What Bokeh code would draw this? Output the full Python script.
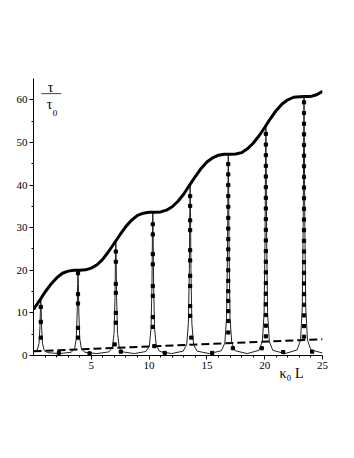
from bokeh.plotting import figure
from bokeh.models import Range1d, FixedTicker, Label, Title
from bokeh.embed import file_html
from bokeh.resources import INLINE

# ---- data ----
# thick upper envelope
env_x = [0, 0.5, 1, 1.5, 2, 2.5, 3, 3.5, 4, 4.5, 5, 5.5, 6, 6.5, 7, 7.5, 8, 8.5, 9, 9.5,
         10, 10.5, 11, 11.5, 12, 12.5, 13, 13.5, 14, 14.5, 15, 15.5, 16, 16.5, 17, 17.5,
         18, 18.5, 19, 19.5, 20, 20.5, 21, 21.5, 22, 22.5, 23, 23.5, 24, 24.5, 25]
env_y = [10.8, 12.8, 14.9, 16.7, 18.2, 19.3, 19.8, 20.0, 20.0, 20.1, 20.5, 21.3, 22.6, 24.4,
         26.4, 28.4, 30.3, 31.8, 32.9, 33.4, 33.6, 33.6, 33.7, 34.1, 34.9, 36.2, 37.9, 40.0,
         42.0, 43.9, 45.4, 46.4, 47.0, 47.2, 47.2, 47.3, 47.6, 48.5, 49.8, 51.5, 53.5, 55.6,
         57.5, 59.0, 60.0, 60.6, 60.7, 60.8, 60.8, 61.2, 62.0]

# thin resonance curve
thin_x = [0.0, 0.33, 0.48, 0.56, 0.60, 0.63, 0.66, 0.70, 0.78, 0.93, 1.23,
          2.24,
          3.25, 3.55, 3.70, 3.78, 3.82, 3.85, 3.88, 3.92, 4.00, 4.15, 4.45,
          5.48,
          6.52, 6.82, 6.97, 7.05, 7.09, 7.12, 7.15, 7.19, 7.27, 7.42, 7.72,
          8.72,
          9.72, 10.02, 10.17, 10.25, 10.29, 10.32, 10.35, 10.39, 10.47, 10.62, 10.92,
          11.94,
          12.95, 13.25, 13.40, 13.48, 13.52, 13.55, 13.58, 13.62, 13.70, 13.85, 14.15,
          15.20,
          16.25, 16.55, 16.70, 16.78, 16.82, 16.85, 16.88, 16.92, 17.00, 17.15, 17.45,
          18.48,
          19.50, 19.80, 19.95, 20.03, 20.07, 20.10, 20.13, 20.17, 20.25, 20.40, 20.70,
          21.75,
          22.80, 23.10, 23.25, 23.33, 23.37, 23.40, 23.43, 23.47, 23.55, 23.70, 24.00,
          25.0]
thin_y = [1.05, 1.3, 2.9, 6.75, 11.06, 13.0, 11.06, 6.75, 2.74, 1.15, 0.67,
          0.45,
          0.76, 1.50, 3.97, 10.2, 16.89, 19.9, 16.89, 10.2, 3.97, 1.50, 0.76,
          0.45,
          0.85, 1.85, 5.19, 13.6, 22.64, 26.7, 22.64, 13.6, 5.19, 1.85, 0.85,
          0.45,
          0.94, 2.20, 6.41, 17.0, 28.39, 33.5, 28.39, 17.0, 6.41, 2.20, 0.94,
          0.45,
          1.03, 2.53, 7.55, 20.2, 33.79, 39.9, 33.79, 20.2, 7.55, 2.53, 1.03,
          0.45,
          1.12, 2.90, 8.84, 23.8, 39.88, 47.1, 39.88, 23.8, 8.84, 2.90, 1.12,
          0.45,
          1.21, 3.25, 10.02, 27.1, 45.45, 53.7, 45.45, 27.1, 10.02, 3.25, 1.21,
          0.45,
          1.30, 3.60, 11.24, 30.5, 51.2, 60.5, 51.2, 30.5, 11.24, 3.60, 1.30,
          0.6]

# square markers on the peaks
peak_centers = [0.63, 3.85, 7.12, 10.32, 13.55, 16.85, 20.1, 23.4]
peak_marks = [
    [11.4, 7.9, 4.2],
    [19.3, 14.4, 12.2, 6.5, 4.2],
    [24.4, 22.0, 16.8, 14.7, 10.0, 7.7],
    [30.8, 28.4, 23.8, 21.4, 16.3, 14.0, 9.0, 6.7],
    [37.4, 35.1, 31.7, 29.4, 24.7, 22.3, 18.7, 16.3, 11.6, 9.3],
    [44.9, 42.5, 40.0, 37.4, 34.9, 32.3, 29.8, 27.3, 24.9, 22.6, 20.0, 17.5, 15.1,
     12.8, 10.4, 8.1, 5.4],
    [52.0, 49.5, 47.0, 44.5, 42.0, 39.5, 37.0, 34.5, 32.0, 29.5, 27.0, 24.5, 22.0,
     19.5, 17.0, 14.5, 12.0, 9.5, 7.0, 4.5],
    [59.4, 56.9, 54.4, 51.9, 49.4, 46.9, 44.4, 41.9, 39.4, 36.9, 34.4, 31.9, 29.4,
     26.9, 24.4, 21.9, 19.4, 16.9, 14.4, 11.9, 9.4, 6.9, 4.4],
]
# markers near the base line
base_mark_x = [2.2, 4.85, 7.55, 11.35, 15.45, 17.25, 19.75, 21.6, 24.1, 7.02, 10.45, 13.65]
base_mark_y = [0.6, 0.5, 0.9, 0.6, 0.6, 1.7, 1.7, 0.8, 0.9, 2.6, 2.2, 4.2]

# dashed straight line
dash_x = [0, 25]
dash_y = [1.0, 3.8]

x_ticks = [5, 10, 15, 20, 25]
x_minor = [i for i in range(1, 25) if i % 5 != 0]
y_ticks = [0, 10, 20, 30, 40, 50, 60]
y_minor = [5, 15, 25, 35, 45, 55]

# ---- figure ----
p = figure(frame_width=289, frame_height=277,
           x_range=Range1d(0, 25), y_range=Range1d(0, 65),
           output_backend="svg", toolbar_location=None,
           min_border_left=33, min_border_right=24,
           min_border_top=78, min_border_bottom=95)
p.outline_line_color = None
p.xgrid.visible = False
p.ygrid.visible = False
p.background_fill_color = "white"

p.xaxis.ticker = FixedTicker(ticks=x_ticks, minor_ticks=x_minor)
p.yaxis.ticker = FixedTicker(ticks=y_ticks, minor_ticks=y_minor)
for ax in (p.xaxis, p.yaxis):
    ax.axis_line_color = "black"
    ax.axis_line_width = 1
    ax.major_tick_in = 0
    ax.major_tick_out = 4
    ax.minor_tick_in = 0
    ax.minor_tick_out = 2
    ax.major_tick_line_color = "black"
    ax.minor_tick_line_color = "black"
    ax.major_label_text_font = "Liberation Serif"
    ax.major_label_text_font_size = "11px"
    ax.major_label_text_color = "black"
    ax.major_label_standoff = 2

p.line(dash_x, dash_y, line_color="black", line_width=2, line_dash="8 4")
p.line(thin_x, thin_y, line_color="#222222", line_width=1)

mx = []
my = []
for c, hs in zip(peak_centers, peak_marks):
    for h in hs:
        mx.append(c)
        my.append(h)
mx += base_mark_x
my += base_mark_y
p.scatter(mx, my, marker="square", size=3.2, color="black")

p.line(env_x, env_y, line_color="black", line_width=3)

font = "Liberation Serif"


def lab(x, y, text, size, style="normal"):
    p.add_layout(Label(x=x, y=y, text=text, text_font=font, text_font_size=size,
                       text_font_style=style, text_color="black",
                       text_align="center", text_baseline="middle"))


# y label tau / tau_0
lab(1.47, 63.0, "τ", "14px")
p.segment(x0=[0.67], y0=[61.45], x1=[2.40], y1=[61.45], line_color="#444444", line_width=1)
lab(1.38, 58.8, "τ", "14px")
lab(1.85, 56.9, "0", "9px")

# x label kappa_0 L, in the panel below the x axis
p.add_layout(Title(text="κ₀ L", align="right", offset=19, standoff=-12,
                   vertical_align="top", text_font=font, text_font_size="14px",
                   text_font_style="normal", text_color="black"), "below")

open("out.html", "w").write(file_html(p, INLINE))
